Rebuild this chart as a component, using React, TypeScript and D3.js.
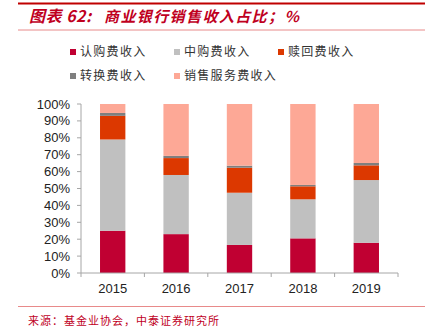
import React from "react";
import * as d3 from "d3";

const years = ["2015", "2016", "2017", "2018", "2019"];
const seriesNames = ["认购费收入", "中购费收入", "赎回费收入", "转换费收入", "销售服务费收入"];
const subscription = [25, 23, 16.6, 20.5, 17.9];
const purchase = [54, 35, 30.9, 23.1, 37.1];
const redemption = [14, 10, 14.8, 7.7, 8.7];
const conversion = [1.7, 1.3, 1.2, 0.8, 1.4];
const service = [5.3, 30.7, 36.5, 47.9, 34.9];
const yTicks = [0, 10, 20, 30, 40, 50, 60, 70, 80, 90, 100];
const colors = ["#C00032", "#C0C0C0", "#DC3800", "#7F7F7F", "#FDA896"];

const W = 431;
const H = 335;
const left = 81;
const right = 398;
const top = 104;
const bottom = 273;

export default function App() {
  const seriesVals = [subscription, purchase, redemption, conversion, service];
  const rows = years.map((y, i) => {
    const o: any = { year: y };
    seriesNames.forEach((s, k) => (o[s] = seriesVals[k][i]));
    return o;
  });
  const stacked = d3.stack().keys(seriesNames)(rows);
  const x = d3.scaleBand().domain(years).range([left, right]).paddingInner(0.6).paddingOuter(0.3);
  const y = d3.scaleLinear().domain([0, 100]).range([bottom, top]);
  const step = x.step();
  const boundaries = d3.range(years.length + 1).map((i) => left + i * step);
  const font = "'Liberation Sans', Arial, sans-serif";
  const cjk = "'Noto Sans CJK SC', sans-serif";

  const legendPos = [
    [70, 52],
    [174, 52],
    [278, 52],
    [70, 76],
    [174, 76],
  ];

  return (
    <svg width={W} height={H} style={{ position: "absolute", left: 0, top: 0, background: "#fff" }}>
      <line x1={18} x2={425} y1={3.5} y2={3.5} stroke="#C00000" strokeWidth={2} />
      <text x={29} y={22} fill="#C0001E" fontFamily={cjk} fontSize={16} fontStyle="italic" fontWeight="bold" letterSpacing={0.5}>
        图表 62:
      </text>
      <text x={104} y={22} fill="#C0001E" fontFamily={cjk} fontSize={15} fontStyle="italic" fontWeight="bold" letterSpacing={1.4}>
        商业银行销售收入占比；%
      </text>
      <line x1={18} x2={425} y1={30} y2={30} stroke="#E88A8A" strokeWidth={1} />

      {seriesNames.map((s, i) => (
        <g key={s}>
          <rect x={legendPos[i][0]} y={legendPos[i][1] - 3} width={6} height={6} fill={colors[i]} />
          <text x={legendPos[i][0] + 10} y={legendPos[i][1]} dy="0.35em" fill="#333" fontFamily={cjk} fontSize={12} letterSpacing={1.3}>
            {s}
          </text>
        </g>
      ))}

      {stacked.map((layer, k) => (
        <g key={k} fill={colors[k]}>
          {layer.map((d: any, i: number) => (
            <rect key={i} x={x(years[i])} width={x.bandwidth()} y={y(d[1])} height={y(d[0]) - y(d[1])} />
          ))}
        </g>
      ))}

      <line x1={left} x2={left} y1={top} y2={bottom} stroke="#A6A6A6" />
      {yTicks.map((t) => (
        <g key={t}>
          <line x1={left - 4} x2={left} y1={y(t)} y2={y(t)} stroke="#A6A6A6" />
          <text x={70} y={y(t)} dy="0.35em" textAnchor="end" fontFamily={font} fontSize={13} fill="#222">
            {t}%
          </text>
        </g>
      ))}
      <line x1={left} x2={right} y1={bottom} y2={bottom} stroke="#A6A6A6" />
      {boundaries.map((b, i) => (
        <line key={i} x1={b} x2={b} y1={bottom} y2={bottom + 4} stroke="#A6A6A6" />
      ))}
      {years.map((yr) => (
        <text key={yr} x={(x(yr) as number) + x.bandwidth() / 2} y={288} dy="0.35em" textAnchor="middle" fontFamily={font} fontSize={13} fill="#222">
          {yr}
        </text>
      ))}

      <line x1={18} x2={425} y1={306.5} y2={306.5} stroke="#E88A8A" strokeWidth={1} />
      <text x={28} y={321} dy="0.35em" fill="#C0001E" fontFamily={cjk} fontSize={11} letterSpacing={1}>
        来源：基金业协会，中泰证券研究所
      </text>
    </svg>
  );
}
